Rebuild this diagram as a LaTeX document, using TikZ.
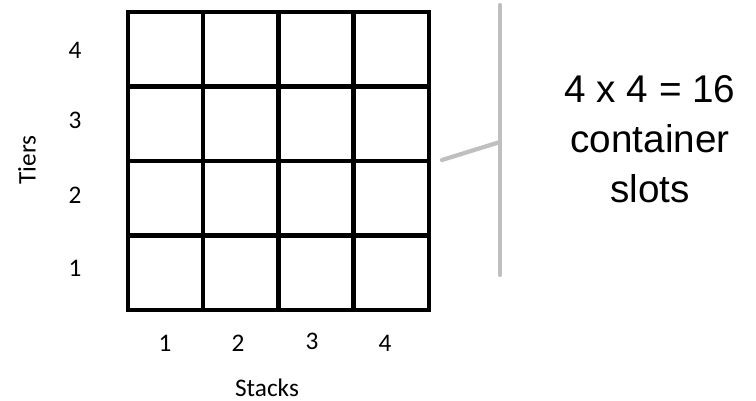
\documentclass[tikz,border=0pt]{standalone}
\usepackage{fontspec}
\setmainfont{Carlito}
\newfontfamily\arialfont{Liberation Sans}
\definecolor{bracketgrey}{RGB}{191,191,191}
\tikzset{
  gridline/.style={line width=3.2pt,black},
  bracketline/.style={line width=3pt,bracketgrey,line cap=round},
  axisnum/.style={font=\fontsize{18}{21}\selectfont,inner sep=0pt},
}
\begin{document}
\begin{tikzpicture}[scale=1]

\useasboundingbox (0,0) rectangle (18.9,10.025);

% the 4 x 4 grid of slots
\draw[gridline,xstep=1.88cm,ystep=1.8625cm,shift={(3.2,2.275)}]
  (0,0) grid (7.53,7.46);
\draw[gridline]
  (3.2,2.275) rectangle (10.72,9.725);

% tier numbers
\node[axisnum]
(T1)
at (1.875,3.325)
{1};

\node[axisnum]
(T2)
at (1.875,5.15)
{2};

\node[axisnum]
(T3)
at (1.875,7.025)
{3};

\node[axisnum]
(T4)
at (1.875,8.775)
{4};

\node[axisnum,rotate=90]
(Tiers)
at (0.675,6.025)
{Tiers};

% stack numbers
\node[axisnum]
(S1)
at (4.125,1.45)
{1};

\node[axisnum]
(S2)
at (5.95,1.45)
{2};

\node[axisnum]
(S3)
at (7.8,1.5)
{3};

\node[axisnum]
(S4)
at (9.625,1.45)
{4};

\node[axisnum]
(Stacks)
at (6.675,0.325)
{Stacks};

% bracket
\coordinate (BT) at (12.5,9.9);
\coordinate (BB) at (12.5,3.15);
\coordinate (BM) at (12.5,6.475);
\coordinate (BG) at (11.05,6.025);

\draw[bracketline] (BT) -- (BB);
\draw[bracketline] (BG) -- (BM);

\node[align=center,font=\arialfont\fontsize{27.5}{35.6}\selectfont]
(C)
at (16.25,6.55)
{4 x 4 = 16\\container\\slots};

\end{tikzpicture}
\end{document}
